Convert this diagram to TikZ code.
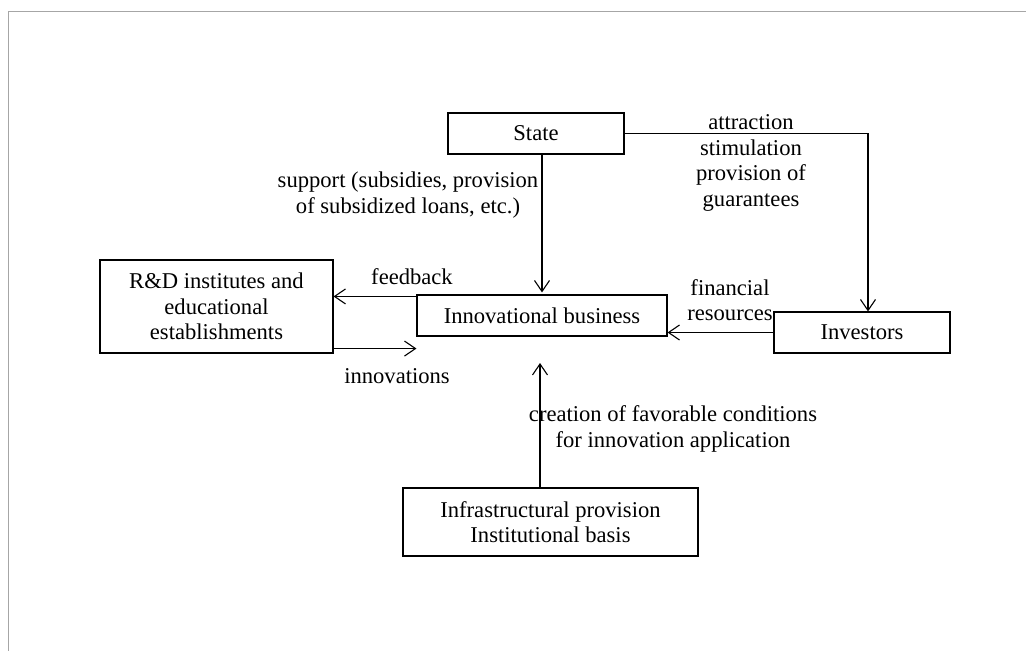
\documentclass[tikz,border=0pt]{standalone}
\usepackage{fontspec}
\setmainfont{Liberation Serif}
\usetikzlibrary{arrows.meta,positioning}
\tikzset{
  box/.style={draw,line width=1.1pt,inner sep=0pt,align=center,font=\fontsize{22.6}{25.5}\selectfont},
  lbl/.style={inner sep=0pt,align=center,font=\fontsize{22.6}{25.5}\selectfont},
  arr/.style={line width=1.1pt,-{Straight Barb[length=11pt,width=15pt]}}
}
\begin{document}
\begin{tikzpicture}[x=1pt,y=-1pt]
\useasboundingbox (0,0) rectangle (1026,651);
\draw[gray!70,line width=0.9pt] (1026,11) -- (8,11) -- (8,651);
\node[box,minimum width=176pt,minimum height=41pt] (state) at (536,133.5) {State};
\node[box,minimum width=233pt,minimum height=93pt] (rd) at (216.5,306.5) {R\&D institutes and\\educational\\establishments};
\node[box,minimum width=250pt,minimum height=41pt] (innov) at (542,315.5) {Innovational business};
\node[box,minimum width=176pt,minimum height=41pt] (inv) at (862,332.5) {Investors};
\node[box,minimum width=295pt,minimum height=68pt] (infra) at (550.5,522) {Infrastructural provision\\Institutional basis};
\node[lbl] (support) at (408,195) {support (subsidies, provision\\of subsidized loans, etc.)};
\node[lbl] (attract) at (751,163) {attraction\\stimulation\\provision of\\guarantees};
\node[lbl] (fb) at (412,277) {feedback};
\node[lbl] (inn) at (397,376) {innovations};
\node[lbl] (fin) at (730,300) {financial\\resources};
\node[lbl] (creat) at (673,429) {creation of favorable conditions\\for innovation application};
\coordinate (upend) at (540,363);
\draw[arr,shorten >=2pt] (state.south -| innov.north) -- (innov.north);
\draw[arr] (state.east) -| ([xshift=6pt]inv.north);
\draw[arr] (inv.west) -- (inv.west -| innov.east);
\draw[arr] ([yshift=-2pt]innov.north west) -- ([yshift=-2pt]innov.north west -| rd.east);
\draw[arr] ([yshift=5pt]rd.south east) -- ([yshift=5pt]rd.south east -| innov.west);
\draw[arr] (infra.north -| upend) -- (upend);
\end{tikzpicture}
\end{document}
